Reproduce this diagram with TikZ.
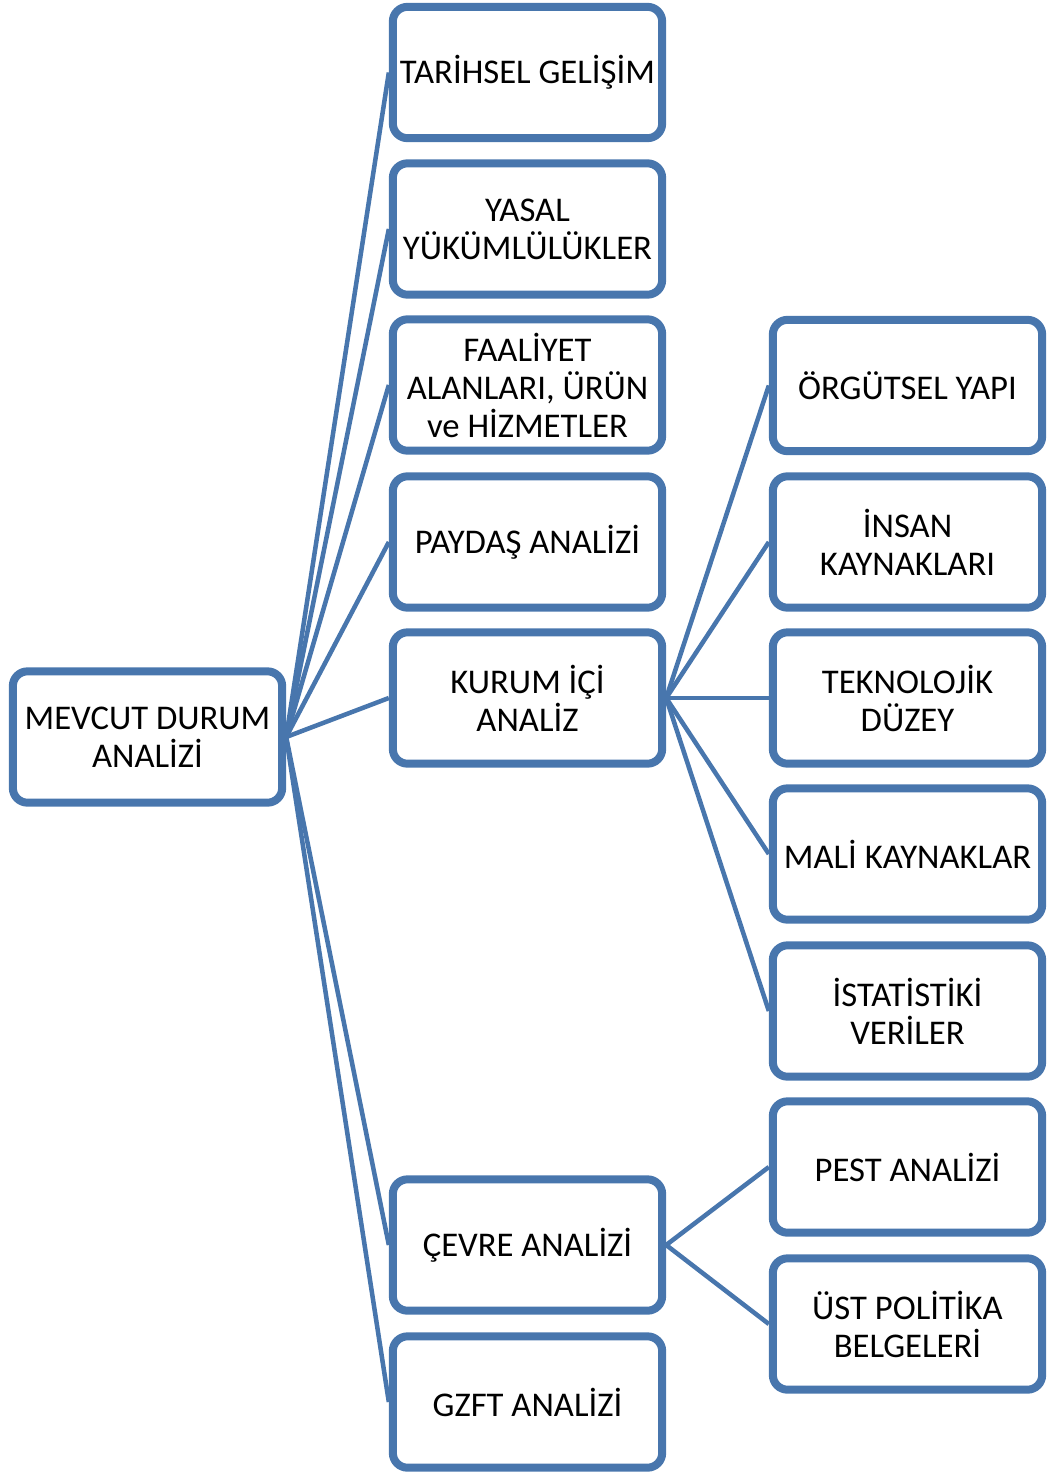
\documentclass[tikz,border=0pt]{standalone}
\usepackage{fontspec}
\setmainfont{Carlito}
\usetikzlibrary{shadows,backgrounds}
\definecolor{boxblue}{RGB}{72,118,173}
\tikzset{
  box/.style={draw=boxblue, line width=6pt, rounded corners=11pt, fill=white,
    minimum width=202pt, minimum height=98.5pt, inner sep=0pt,
    align=center, font=\fontsize{26}{28.5}\selectfont,
    drop shadow={opacity=0.25, shadow xshift=1.5pt, shadow yshift=-2pt}},
  link/.style={draw=boxblue, line width=3.4pt}
}
\begin{document}
\begin{tikzpicture}[x=0.75pt,y=-0.75pt]
\useasboundingbox (0,0) rectangle (1048,1475);
\node[box] (root) at (147.5,737) {MEVCUT DURUM\\ANALİZİ};
\node[box] (m1) at (527.5,72.5) {TARİHSEL GELİŞİM};
\node[box] (m2) at (527.5,229) {YASAL\\YÜKÜMLÜLÜKLER};
\node[box] (m3) at (527.5,385) {FAALİYET\\ALANLARI, ÜRÜN\\ve HİZMETLER};
\node[box] (m4) at (527.5,542) {PAYDAŞ ANALİZİ};
\node[box] (m5) at (527.5,698) {KURUM İÇİ\\ANALİZ};
\node[box] (m6) at (527.5,1245) {ÇEVRE ANALİZİ};
\node[box] (m7) at (527.5,1402) {GZFT ANALİZİ};
\node[box] (r1) at (907.5,385.5) {ÖRGÜTSEL YAPI};
\node[box] (r2) at (907.5,542) {İNSAN\\KAYNAKLARI};
\node[box] (r3) at (907.5,698) {TEKNOLOJİK\\DÜZEY};
\node[box] (r4) at (907.5,854) {MALİ KAYNAKLAR};
\node[box] (r5) at (907.5,1011) {İSTATİSTİKİ\\VERİLER};
\node[box] (r6) at (907.5,1167) {PEST ANALİZİ};
\node[box] (r7) at (907.5,1324) {ÜST POLİTİKA\\BELGELERİ};
\begin{scope}[on background layer]
\foreach \m in {m1,m2,m3,m4,m5,m6,m7}
  \draw[link] (root.east) -- (\m.west);
\foreach \r in {r1,r2,r3,r4,r5}
  \draw[link] (m5.east) -- (\r.west);
\foreach \r in {r6,r7}
  \draw[link] (m6.east) -- (\r.west);
\end{scope}
\end{tikzpicture}
\end{document}
